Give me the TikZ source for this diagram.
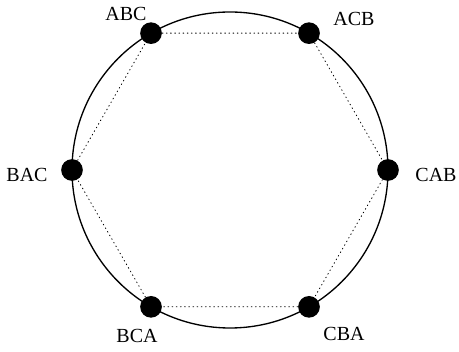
\documentclass[tikz,border=0pt]{standalone}
\usepackage{fontspec}
\setmainfont{Liberation Serif}
\usepackage{tikz}
\tikzset{
    every picture/.style={line cap=round,line join=round},
    permdot/.style={circle,fill=black,draw=none,minimum size=13pt,inner sep=0pt},
    permlabel/.style={font=\fontsize{12}{14}\selectfont,inner sep=0pt},
    ringline/.style={line width=0.8pt},
    swapline/.style={dotted,line width=0.5pt}
}
\begin{document}
\begin{tikzpicture}[x=0.6pt,y=0.6pt]
  \useasboundingbox (0,0) rectangle (459,352);
  \coordinate (c) at (230,182);
  \draw[ringline] (c) circle[radius=158];
  % the six orderings round the ring
  \node[permdot] (abc) at ([shift={(120:158)}]c) {};
  \node[permdot] (acb) at ([shift={(60:158)}]c) {};
  \node[permdot] (cab) at ([shift={(0:158)}]c) {};
  \node[permdot] (cba) at ([shift={(-60:158)}]c) {};
  \node[permdot] (bca) at ([shift={(-120:158)}]c) {};
  \node[permdot] (bac) at ([shift={(180:158)}]c) {};
  \node[permlabel] (abcl) at ([shift={(-25,19)}]abc) {ABC};
  \node[permlabel] (acbl) at ([shift={(45,14)}]acb) {ACB};
  \node[permlabel] (cabl) at ([shift={(48,-5)}]cab) {CAB};
  \node[permlabel] (cbal) at ([shift={(35,-27)}]cba) {CBA};
  \node[permlabel] (bcal) at ([shift={(-14,-29)}]bca) {BCA};
  \node[permlabel] (bacl) at ([shift={(-45,-5)}]bac) {BAC};
  \draw[swapline] (abc)--(acb)--(cab)--(cba)--(bca)--(bac)--(abc);
\end{tikzpicture}
\end{document}
